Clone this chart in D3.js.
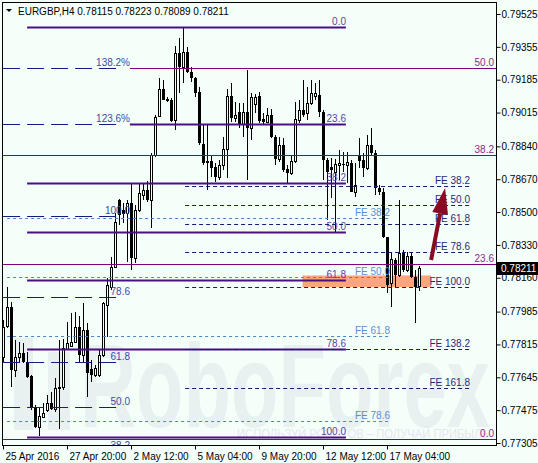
<!DOCTYPE html>
<html lang="en">
<head>
<meta charset="utf-8">
<title>EURGBP H4</title>
<script src="https://d3js.org/d3.v7.min.js"></script>
<style>
  body { margin: 0; background: #f5fffa; }
  svg { display: block; font-family: "Liberation Sans", Arial, sans-serif; }
</style>
</head>
<body>
<div id="chart"></div>
<script>
// H4 candles
var opens = [0.77750,0.77910,0.78009,0.77683,0.77750,0.77771,0.77724,0.77652,0.77491,0.77388,
  0.77439,0.77476,0.77512,0.77481,0.77590,0.77595,0.77791,0.77807,0.77828,0.77905,
  0.77760,0.77890,0.77688,0.77657,0.77657,0.77760,0.78019,0.78112,0.78216,0.78562,
  0.78511,0.78495,0.78547,0.78262,0.78511,0.78588,0.78614,0.78562,0.78795,0.78997,
  0.79137,0.79085,0.79080,0.78976,0.79323,0.79251,0.79328,0.79225,0.79194,0.79121,
  0.78852,0.78764,0.78764,0.78733,0.78681,0.78744,0.78826,0.79101,0.78987,0.79018,
  0.78956,0.79018,0.78935,0.79059,0.79101,0.78982,0.78966,0.79002,0.78888,0.78775,
  0.78847,0.78723,0.78702,0.78764,0.78976,0.79028,0.79013,0.79064,0.79101,0.79106,
  0.79018,0.78769,0.78733,0.78707,0.78744,0.78749,0.78744,0.78754,0.78604,0.78795,
  0.78769,0.78728,0.78847,0.78806,0.78625,0.78604,0.78371,0.78133,0.78252,0.78174,
  0.78288,0.78200,0.78273,0.78164,0.78115];
var highs = [0.77941,0.78112,0.78035,0.77838,0.77828,0.77822,0.77776,0.77657,0.77502,0.77491,
  0.77512,0.77553,0.77569,0.77641,0.77838,0.77843,0.77931,0.77978,0.77983,0.77962,
  0.78029,0.77926,0.77734,0.77709,0.77786,0.78035,0.78159,0.78267,0.78495,0.78568,
  0.78547,0.78562,0.78650,0.78537,0.78650,0.78650,0.78661,0.78806,0.79002,0.79194,
  0.79183,0.79095,0.79090,0.79359,0.79401,0.79458,0.79354,0.79251,0.79199,0.79147,
  0.78956,0.78951,0.78795,0.78754,0.78769,0.78888,0.79137,0.79168,0.79070,0.79064,
  0.79064,0.79235,0.79116,0.79111,0.79121,0.79013,0.79039,0.79033,0.78899,0.78888,
  0.78883,0.78744,0.78795,0.79070,0.79080,0.79183,0.79147,0.79183,0.79168,0.79183,
  0.79028,0.78780,0.78780,0.78775,0.78821,0.78811,0.78811,0.78769,0.78754,0.78883,
  0.78806,0.78899,0.78935,0.78821,0.78640,0.78625,0.78371,0.78293,0.78262,0.78562,
  0.78304,0.78293,0.78293,0.78200,0.78223];
var lows = [0.77724,0.77900,0.77595,0.77646,0.77724,0.77719,0.77641,0.77476,0.77385,0.77341,
  0.77435,0.77465,0.77476,0.77465,0.77377,0.77580,0.77786,0.77802,0.77822,0.77724,
  0.77719,0.77543,0.77621,0.77646,0.77646,0.77750,0.77853,0.78097,0.78210,0.78433,
  0.78443,0.78242,0.78200,0.78236,0.78500,0.78562,0.78552,0.78418,0.78785,0.78992,
  0.79080,0.79070,0.78966,0.78925,0.79116,0.79168,0.79220,0.79173,0.79095,0.78847,
  0.78744,0.78614,0.78681,0.78656,0.78666,0.78718,0.78676,0.78966,0.78966,0.78935,
  0.78888,0.78666,0.78873,0.79013,0.78961,0.78951,0.78961,0.78883,0.78744,0.78759,
  0.78707,0.78650,0.78692,0.78754,0.78961,0.78992,0.78976,0.79054,0.79080,0.78992,
  0.78666,0.78459,0.78573,0.78392,0.78666,0.78707,0.78650,0.78604,0.78578,0.78728,
  0.78681,0.78718,0.78795,0.78588,0.78588,0.78366,0.78081,0.78009,0.78112,0.78164,
  0.78190,0.78190,0.78159,0.77926,0.78089];
var closes = [0.77905,0.78009,0.77683,0.77750,0.77771,0.77724,0.77646,0.77491,0.77388,0.77445,
  0.77460,0.77512,0.77481,0.77590,0.77595,0.77796,0.77822,0.77828,0.77905,0.77760,
  0.77890,0.77667,0.77657,0.77693,0.77760,0.78029,0.78123,0.78216,0.78449,0.78485,
  0.78490,0.78547,0.78262,0.78511,0.78599,0.78614,0.78562,0.78795,0.78992,0.79137,
  0.79080,0.79075,0.78971,0.79323,0.79251,0.79328,0.79225,0.79194,0.79116,0.78857,
  0.78754,0.78754,0.78728,0.78681,0.78744,0.78826,0.79101,0.78987,0.79002,0.78956,
  0.79018,0.78935,0.79095,0.79095,0.78971,0.78966,0.79002,0.78888,0.78775,0.78847,
  0.78718,0.78702,0.78764,0.78982,0.79028,0.79002,0.79064,0.79116,0.79116,0.79018,
  0.78769,0.78707,0.78718,0.78749,0.78754,0.78746,0.78759,0.78604,0.78640,0.78764,
  0.78728,0.78847,0.78806,0.78625,0.78604,0.78371,0.78123,0.78257,0.78174,0.78288,
  0.78200,0.78273,0.78164,0.78112,0.78211];

var tickIdx = [0, 16, 32, 48, 64, 80, 96];
var tickLabels = ["25 Apr 2016", "27 Apr 20:00", "2 May 12:00", "5 May 04:00", "9 May 20:00", "12 May 12:00", "17 May 04:00"];
var priceTicks = [0.79525, 0.79355, 0.79185, 0.79015, 0.78840, 0.78670, 0.78500, 0.78330, 0.78160, 0.77985, 0.77815, 0.77645, 0.77475, 0.77305];

// fibo objects
var fibLabels = ["0.0", "23.6", "38.2", "50.0", "61.8", "78.6", "100.0"];
var fibPrices = [0.79459, 0.78958, 0.78648, 0.78398, 0.78147, 0.77790, 0.77336];
var fib2Labels = ["50.0", "38.2", "23.6", "0.0"];
var fib2Prices = [0.79246, 0.78795, 0.78231, 0.77328];
var extLabels = ["138.2%", "123.6%", "100.0", "78.6", "61.8", "50.0", "38.2"];
var extPrices = [0.79246, 0.78956, 0.78481, 0.78061, 0.77724, 0.77491, 0.77263];
var feLeftLabels = ["FE 38.2", "FE 50.0", "FE 61.8", "FE 78.6"];
var feLeftPrices = [0.78469, 0.78164, 0.77861, 0.77421];
var feRightLabels = ["FE 38.2", "FE 50.0", "FE 61.8", "FE 78.6", "FE 100.0", "FE 138.2", "FE 161.8"];
var feRightPrices = [0.78637, 0.78537, 0.78436, 0.78295, 0.78114, 0.77790, 0.77592];
var zonePrices = [0.78172, 0.78112];
var arrowPrices = [0.78252, 0.78625];
var lastPrice = 0.78211;

var W = 538, H = 463;
var svg = d3.select("#chart").append("svg").attr("width", W).attr("height", H);
svg.append("rect").attr("width", W).attr("height", H).attr("fill", "#f5fffa");

var x = d3.scaleLinear().domain([0, 104]).range([3.5, 419.5]);
var y = d3.scaleLinear().domain([0.77305, 0.79525]).range([443, 14]);

svg.append("clipPath").attr("id", "plot")
  .append("rect").attr("x", 3).attr("y", 3).attr("width", 493).attr("height", 442);
var plot = svg.append("g").attr("clip-path", "url(#plot)");

// watermark
var wm = plot.append("g").attr("fill", "#e8f0f0");
wm.append("rect").attr("x", 14).attr("y", 338).attr("width", 19).attr("height", 92);
wm.append("rect").attr("x", 48).attr("y", 352).attr("width", 22).attr("height", 78);
wm.append("text").attr("x", 80).attr("y", 427).attr("font-size", 118).attr("font-weight", "bold")
  .attr("textLength", 410).attr("lengthAdjust", "spacingAndGlyphs").text("RoboForex");
wm.append("text").attr("x", 237).attr("y", 438).attr("font-size", 12).attr("fill", "#e0e9ec")
  .attr("textLength", 252).attr("lengthAdjust", "spacingAndGlyphs")
  .text("ИСПОЛЬЗУЙ РОБОТОВ – ПОЛУЧАЙ ПРИБЫЛЬ");

// salmon zone (background object)
plot.append("rect")
  .attr("x", x(74.75)).attr("width", x(106.9) - x(74.75))
  .attr("y", y(zonePrices[0])).attr("height", y(zonePrices[1]) - y(zonePrices[0]))
  .attr("fill", "#ffa57e");

// candles
var idx = d3.range(opens.length);
var cg = plot.append("g");
cg.selectAll("line").data(idx).join("line")
  .attr("x1", function(i) { return x(i); }).attr("x2", function(i) { return x(i); })
  .attr("y1", function(i) { return Math.round(y(highs[i])); })
  .attr("y2", function(i) { return Math.round(y(lows[i])); })
  .attr("stroke", "#000");
cg.selectAll("rect").data(idx).join("rect")
  .attr("x", function(i) { return closes[i] >= opens[i] ? x(i) - 1 : x(i) - 1.5; })
  .attr("width", function(i) { return closes[i] >= opens[i] ? 2 : 3; })
  .attr("y", function(i) {
    var t = Math.round(y(Math.max(opens[i], closes[i])));
    return closes[i] >= opens[i] ? t + 0.5 : t;
  })
  .attr("height", function(i) {
    var t = Math.round(y(Math.max(opens[i], closes[i])));
    var b = Math.round(y(Math.min(opens[i], closes[i])));
    return closes[i] >= opens[i] ? Math.max(b - t, 0.01) : Math.max(b - t, 1);
  })
  .attr("fill", function(i) { return closes[i] >= opens[i] ? "#f5fffa" : "#000"; })
  .attr("stroke", function(i) { return closes[i] >= opens[i] ? "#000" : "none"; });

function levels(prices, labels, from, to, labelAt, opt) {
  var g = plot.append("g");
  g.selectAll("line").data(prices).join("line")
    .attr("x1", function(d, i) { return opt.from ? x(opt.from[i]) : x(from); })
    .attr("x2", x(to))
    .attr("y1", function(d) { return Math.round(y(d)) + 0.5; })
    .attr("y2", function(d) { return Math.round(y(d)) + 0.5; })
    .attr("stroke", opt.color).attr("stroke-width", opt.width || 1)
    .attr("stroke-dasharray", opt.dash || null);
  g.selectAll("text").data(prices).join("text")
    .attr("x", labelAt).attr("y", function(d) { return Math.round(y(d)) - 2; })
    .attr("text-anchor", "end").attr("font-size", 10).attr("fill", opt.textColor)
    .text(function(d, i) { return labels[i]; });
}

levels(feLeftPrices, feLeftLabels, 0.9, 96.6, 390, { color: "#4a86c8", dash: "3,3", textColor: "#5a8fd6" });
levels(extPrices, extLabels, -0.1, 28.5, 130, { color: "#1a1a80", dash: "17,7", textColor: "#3c4aa8" });
levels(fib2Prices, fib2Labels, -0.1, 124, 494, { color: "#800080", textColor: "#8b2a8b", from: [31.6, -0.1, -0.1, -0.1] });
levels(fibPrices, fibLabels, 5.9, 85.6, 346, { color: "#4b0f82", width: 2, textColor: "#5b3fa5", from: [5.9, 31.6, 5.9, 5.9, 5.9, 5.9, 5.9] });
levels(feRightPrices, feRightLabels, 45.4, 116.6, 470, { color: "#1a1a6e", dash: "4,3", textColor: "#1f2a78" });

// arrow
var p0 = [x(106.9), y(arrowPrices[0])], p1 = [x(110.4), y(arrowPrices[1])];
var dx = p1[0] - p0[0], dy = p1[1] - p0[1], len = Math.sqrt(dx * dx + dy * dy);
var ux = dx / len, uy = dy / len, hl = 26, hw = 8;
var base = [p1[0] - ux * hl, p1[1] - uy * hl];
plot.append("line").attr("x1", p0[0]).attr("y1", p0[1]).attr("x2", base[0]).attr("y2", base[1])
  .attr("stroke", "#8a0a23").attr("stroke-width", 4);
plot.append("path").attr("fill", "#8a0a23")
  .attr("d", "M" + p1 + "L" + [base[0] - uy * hw, base[1] + ux * hw] + "L" + [base[0] + uy * hw, base[1] - ux * hw] + "Z");

// frame
svg.append("rect").attr("x", 2.5).attr("y", 2.5).attr("width", 494).attr("height", 443)
  .attr("fill", "none").attr("stroke", "#000");

// axes
var yAxis = svg.append("g").attr("transform", "translate(496.5,0)")
  .call(d3.axisRight(y).tickValues(priceTicks).tickSize(4).tickPadding(1).tickFormat(d3.format(".5f")));
yAxis.select(".domain").remove();
yAxis.selectAll("text").attr("font-size", 10).attr("font-family", "Liberation Sans, Arial, sans-serif").attr("fill", "#000");

var xAxis = svg.append("g").attr("transform", "translate(-0.5,445.5)")
  .call(d3.axisBottom(x).tickValues(tickIdx).tickSize(4).tickFormat(function(d, i) { return tickLabels[i]; }));
xAxis.select(".domain").remove();
xAxis.selectAll("text").attr("font-size", 10).attr("font-family", "Liberation Sans, Arial, sans-serif")
  .attr("text-anchor", "start").attr("x", 2).attr("fill", "#000");

// current price tag
svg.append("rect").attr("x", 497).attr("y", Math.round(y(lastPrice)) - 6).attr("width", 41).attr("height", 13).attr("fill", "#000");
svg.append("text").attr("x", 501).attr("y", Math.round(y(lastPrice)) + 4).attr("font-size", 10).attr("fill", "#fff")
  .text(d3.format(".5f")(lastPrice));

// title
svg.append("path").attr("d", "M6,9L12,9L9,12Z").attr("fill", "#000");
svg.append("text").attr("x", 18).attr("y", 15).attr("font-size", 10).attr("fill", "#000")
  .text("EURGBP,H4  " + [opens[104], highs[104], lows[104], closes[104]].map(d3.format(".5f")).join(" "));
</script>
</body>
</html>
